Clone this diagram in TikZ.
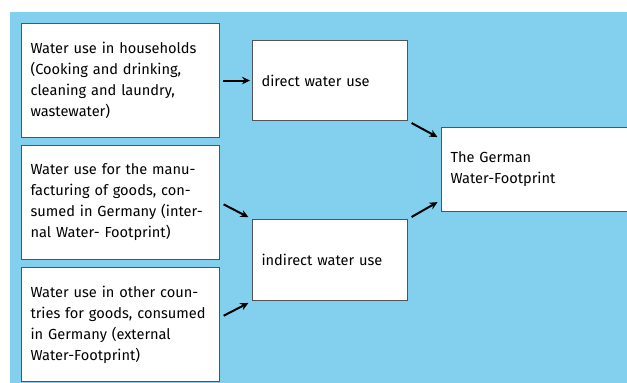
\documentclass[tikz,border=0pt]{standalone}
\usepackage{fontspec}
\setmainfont{Fira Sans}
\usepackage{xcolor}
\usetikzlibrary{arrows.meta,calc}

\definecolor{skyblue}{RGB}{130,207,238}
\definecolor{boxline}{RGB}{80,85,90}

\tikzset{
  wbox/.style={draw=boxline,fill=white,line width=1.1pt,anchor=north west,
    align=left,inner xsep=9pt,inner ysep=0pt,
    font=\fontsize{14.6}{21}\selectfont},
  flow/.style={-{Stealth[length=8pt,width=7.5pt]},line width=2pt,black}
}

\begin{document}
\begin{tikzpicture}[x=1pt,y=-1pt]
\useasboundingbox (0,0) rectangle (627,383);
\fill[skyblue] (10,12) rectangle (627,383);
% sources
\node[wbox,text width=180pt,minimum height=114pt] (house) at (21,23)
  {Water use in households\\(Cooking and drinking,\\cleaning and laundry,\\wastewater)};
\node[wbox,text width=180pt,minimum height=114pt] (intern) at (21,145)
  {Water use for the manu-\\facturing of goods, con-\\sumed in Germany (inter-\\nal Water- Footprint)};
\node[wbox,text width=180pt,minimum height=114pt] (extern) at (21,267)
  {Water use in other coun-\\tries for goods, consumed\\in Germany (external\\Water-Footprint)};
% kinds of use
\node[wbox,text width=137pt,minimum height=80pt] (direct) at (252,40) {direct water use};
\node[wbox,text width=137pt,minimum height=81pt] (indirect) at (252,219) {indirect water use};
% result
\node[wbox,text width=180pt,minimum height=84pt] (german) at (441,127)
  {The German\\Water-Footprint};
% arrows
\draw[flow,shorten <=3pt,shorten >=2pt] (house.east) -- (direct.west);
\draw[flow,shorten <=4pt,shorten >=4pt] (intern.east) -- (indirect.north west);
\draw[flow,shorten <=4pt,shorten >=4pt] ($(extern.east)+(0,-7)$) -- (indirect.south west);
\draw[flow,shorten <=4pt,shorten >=4pt] (direct.south east) -- ($(german.north west)+(0,12)$);
\draw[flow,shorten <=4pt,shorten >=4pt] (indirect.north east) -- ($(german.south west)+(0,-12)$);
\end{tikzpicture}
\end{document}
